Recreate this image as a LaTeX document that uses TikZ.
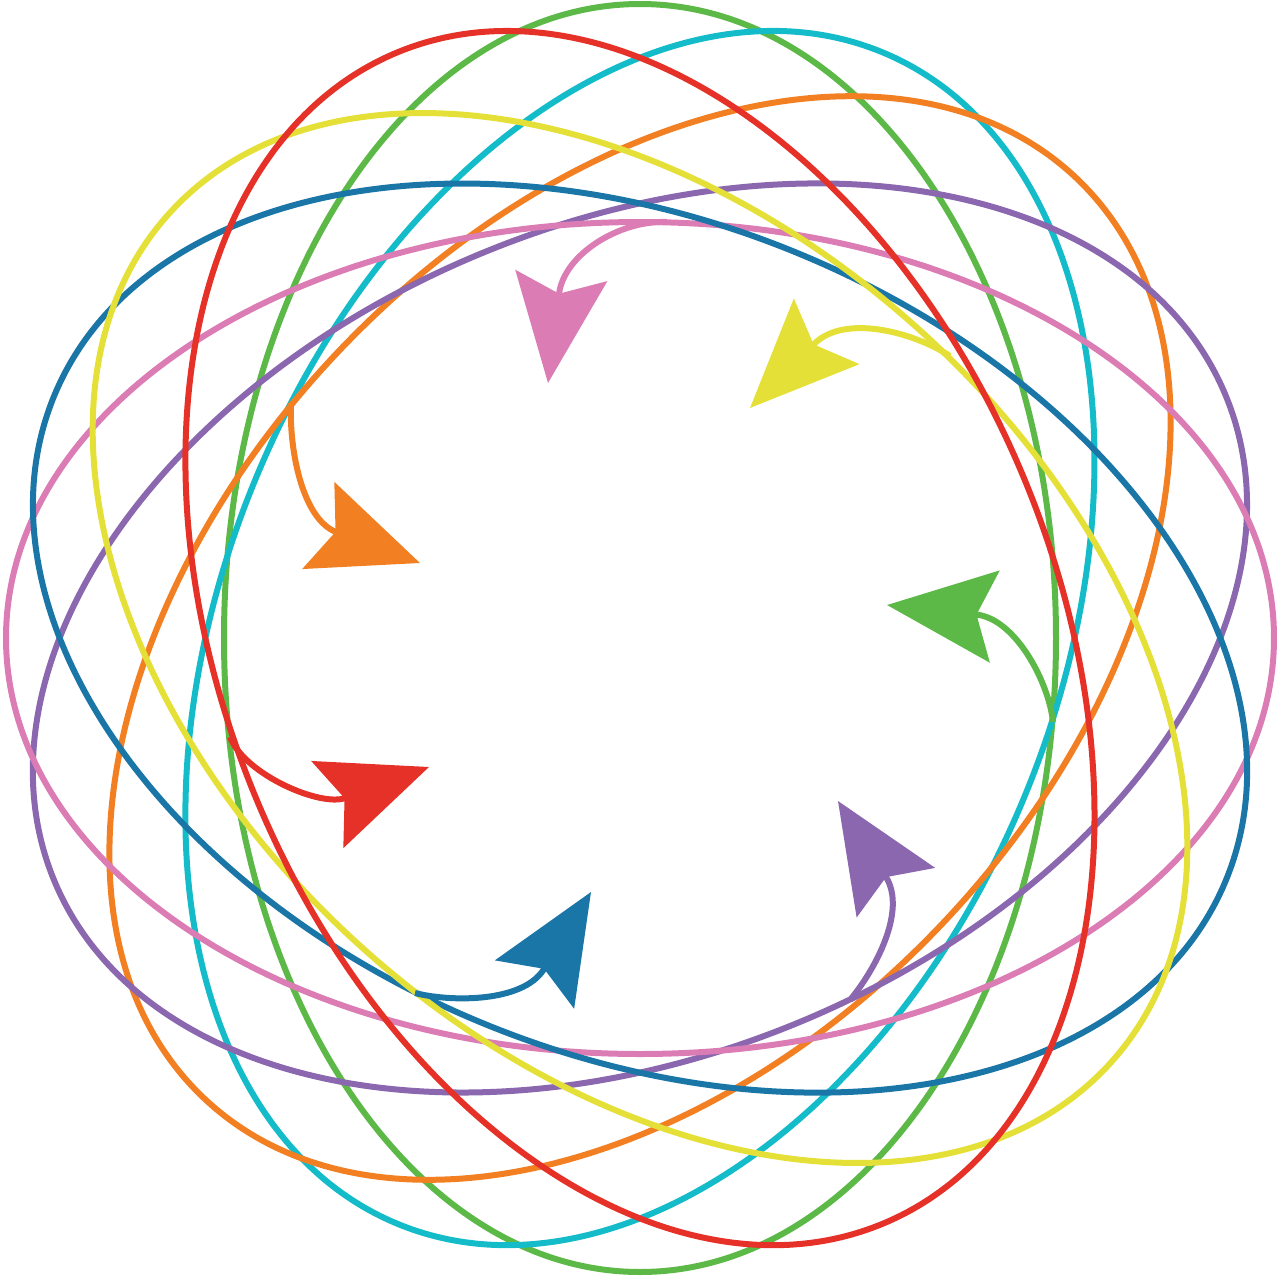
\documentclass[tikz,border=0pt]{standalone}
\usepackage{xcolor}
\usepackage{tikz}
\usetikzlibrary{arrows.meta}

\definecolor{pnk}{HTML}{DB7DB4}
\definecolor{prp}{HTML}{8A67AE}
\definecolor{org}{HTML}{F27F22}
\definecolor{cyn}{HTML}{14BCC9}
\definecolor{grn}{HTML}{5CB947}
\definecolor{rd}{HTML}{E53127}
\definecolor{ylw}{HTML}{E4E038}
\definecolor{blu}{HTML}{1B76A8}

\tikzset{
  ring/.style={line width=0.6mm},
  swirl/.style={line width=0.6mm,-{Stealth[length=10.8mm,width=9.2mm,inset=1.8mm]}}
}

\begin{document}
\begin{tikzpicture}[x=0.1mm,y=-0.1mm]
\useasboundingbox (0,0) rectangle (1279,1280);
\coordinate (ctr) at (640,638);

% Rings
\foreach \ang/\col in {90/grn,67.5/cyn,46.5/org,22.5/prp,0/pnk,157.5/blu,138/ylw,112.5/rd}
  \draw[ring,\col,rotate around={\ang:(ctr)}] (ctr) ellipse [x radius=63.4mm,y radius=41.6mm];

% Arrows: start on the ring, notch, tip
\coordinate (pnkS) at (667,222);  \coordinate (pnkN) at (559,294);   \coordinate (pnkT) at (548,383);
\coordinate (ylwS) at (950,356);  \coordinate (ylwN) at (814,344);   \coordinate (ylwT) at (750,408);
\coordinate (grnS) at (1053,722); \coordinate (grnN) at (976.5,614.6); \coordinate (grnT) at (887,605);
\coordinate (prpS) at (850,1000); \coordinate (prpN) at (886,877);   \coordinate (prpT) at (838,801);
\coordinate (bluS) at (415,993);  \coordinate (bluN) at (544,969);   \coordinate (bluT) at (591,892);
\coordinate (rdS)  at (230,737);  \coordinate (rdN)  at (345,798);   \coordinate (rdT)  at (429,767);
\coordinate (orgS) at (291,403);  \coordinate (orgN) at (336,532);   \coordinate (orgT) at (420,563);

\draw[swirl,pnk] (pnkS) .. controls (620,220) and (564,254) .. (pnkN) -- (pnkT);
\draw[swirl,ylw] (ylwS) .. controls (915,333) and (845,313) .. (ylwN) -- (ylwT);
\draw[swirl,grn] (grnS) .. controls (1049,683) and (1016,619) .. (grnN) -- (grnT);
\draw[swirl,prp] (prpS) .. controls (875,970) and (907,911) .. (prpN) -- (prpT);
\draw[swirl,blu] (bluS) .. controls (450,1002) and (523,1003) .. (bluN) -- (bluT);
\draw[swirl,rd]  (rdS)  .. controls (245,775) and (321,807) .. (rdN) -- (rdT);
\draw[swirl,org] (orgS) .. controls (289,452) and (303,519) .. (orgN) -- (orgT);
\end{tikzpicture}
\end{document}
